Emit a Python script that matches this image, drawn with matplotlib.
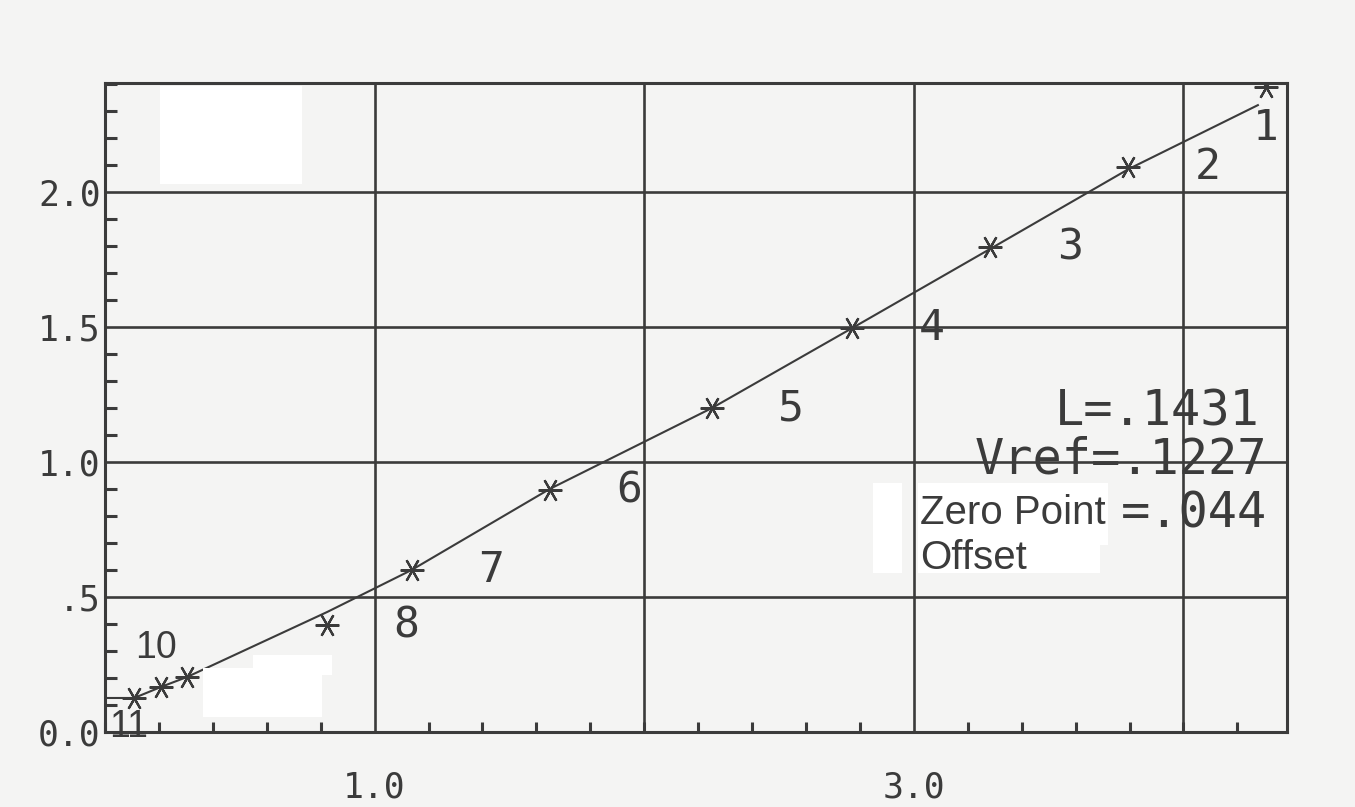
import numpy as np
import matplotlib
matplotlib.use("Agg")
import matplotlib.pyplot as plt
from matplotlib.patches import Rectangle
from matplotlib.ticker import MultipleLocator, FixedLocator, FixedFormatter

# measured points, numbered 1..11 from the top right
pt_num = ["1", "2", "3", "4", "5", "6", "7", "8", "9", "10", "11"]
pt_x = [4.305, 3.796, 3.284, 2.771, 2.251, 1.649, 1.137, 0.825, 0.305, 0.208, 0.108]
pt_y = [2.39, 2.093, 1.796, 1.496, 1.20, 0.896, 0.60, 0.396, 0.204, 0.167, 0.126]

# model curve drawn through the points
fit_x = [0.0, 0.108, 0.208, 0.305, 0.825, 1.137, 1.649, 2.251, 2.771, 3.284, 3.796, 4.276]
fit_y = [0.126, 0.126, 0.167, 0.204, 0.445, 0.60, 0.90, 1.20, 1.496, 1.79, 2.085, 2.322]

ytick_vals = [0.0, 0.5, 1.0, 1.5, 2.0]
ytick_text = ["0.0", ".5", "1.0", "1.5", "2.0"]
xtick_vals = [1.0, 3.0]
xtick_text = ["1.0", "3.0"]
xgrid = [1.0, 2.0, 3.0, 4.0]
ygrid = [0.5, 1.0, 1.5, 2.0]

L_val, vref_val, zpo_val = ".1431", ".1227", ".044"

W, H = 1355, 807
ink = "#3b3b3b"
paper = "#f4f4f3"
mono = "DejaVu Sans Mono"

fig = plt.figure(figsize=(W / 100, H / 100), dpi=100, facecolor=paper)
ax = fig.add_axes([105 / W, 1 - 732 / H, (1287 - 105) / W, (732 - 83) / H])
ax.set_facecolor(paper)
ax.set_xlim(0, 4.384)
ax.set_ylim(0, 2.404)

def px(x, y):
    return x / W, 1 - y / H

for s in ax.spines.values():
    s.set_color(ink)
    s.set_linewidth(2.2)

for g in xgrid:
    ax.axvline(g, color=ink, lw=1.9, zorder=1)
for g in ygrid:
    ax.axhline(g, color=ink, lw=1.9, zorder=1)

ax.xaxis.set_major_locator(FixedLocator(xtick_vals))
ax.xaxis.set_major_formatter(FixedFormatter(xtick_text))
ax.yaxis.set_major_locator(FixedLocator(ytick_vals))
ax.yaxis.set_major_formatter(FixedFormatter(ytick_text))
ax.xaxis.set_minor_locator(MultipleLocator(0.2))
ax.yaxis.set_minor_locator(MultipleLocator(0.1))
ax.tick_params(which="major", length=0, labelsize=25, labelcolor=ink)
ax.tick_params(axis="x", which="major", pad=28)
ax.tick_params(axis="y", which="major", pad=3)
ax.tick_params(which="minor", direction="in", color=ink, width=2.2)
ax.tick_params(axis="x", which="minor", length=7)
ax.tick_params(axis="y", which="minor", length=8.5)
for lab in ax.get_xticklabels() + ax.get_yticklabels():
    lab.set_family(mono)

ax.plot(fit_x, fit_y, color=ink, lw=1.5, zorder=3)
ax.plot(pt_x, pt_y, ls="none", marker=(6, 2, 90), ms=17, mew=1.6,
        color=ink, zorder=4)

# point numbers: plotter style for 1-8, plain sans for 9-11
offsets = {"1": (0, -30), "9": (22, -9), "10": (-4, 28), "11": (-4, -21)}
for n, x, y in zip(pt_num, pt_x, pt_y):
    dx, dy = offsets.get(n, (57, 0))
    if n in ("9", "10", "11"):
        fam, fs = "Liberation Sans", 27
    else:
        fam, fs = mono, 31
    ax.annotate(n, (x, y), xytext=(dx, dy), textcoords="offset points",
                ha="center", va="center", fontsize=fs, family=fam,
                color=ink, zorder=6, annotation_clip=False)

# white cover boxes
for x0, y0, x1, y1 in [(160, 86, 302, 184), (253, 655, 332, 675),
                       (203, 668, 322, 717), (873, 483, 902, 573),
                       (918, 483, 1108, 545), (918, 545, 1100, 573)]:
    fig.patches.append(Rectangle(px(x0, y1), (x1 - x0) / W, (y1 - y0) / H,
                                 transform=fig.transFigure, facecolor="white",
                                 edgecolor="none", zorder=5))

fig.text(*px(1260, 412), "L=" + L_val, ha="right", va="center",
         fontsize=35, family=mono, color=ink, zorder=7)
fig.text(*px(1267, 460), "Vref=" + vref_val, ha="right", va="center",
         fontsize=35, family=mono, color=ink, zorder=7)
fig.text(*px(1267, 513), "=" + zpo_val, ha="right", va="center",
         fontsize=35, family=mono, color=ink, zorder=7)
fig.text(*px(920, 513), "Zero Point", ha="left", va="center",
         fontsize=29, family="Liberation Sans", color=ink, zorder=7)
fig.text(*px(920, 558), "Offset", ha="left", va="center",
         fontsize=29, family="Liberation Sans", color=ink, zorder=7)

fig.savefig("out.png", dpi=100, facecolor=paper)
